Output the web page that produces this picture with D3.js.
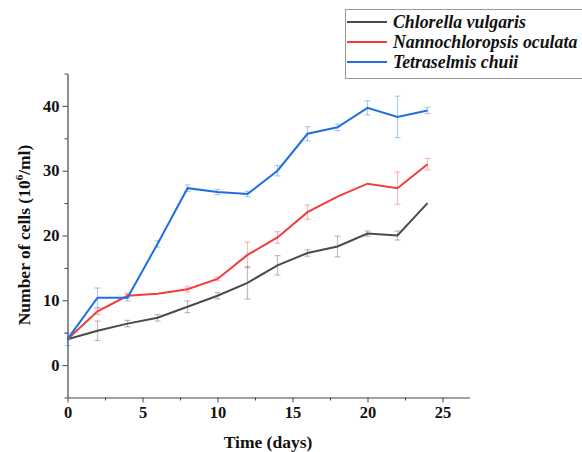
<!DOCTYPE html>
<html>
<head>
<meta charset="utf-8">
<script src="https://cdn.jsdelivr.net/npm/d3@7"></script>
<style>
  body { margin: 0; background: white; }
  svg text { font-family: "Liberation Serif", "Times New Roman", serif !important; }
</style>
</head>
<body>
<svg width="582" height="452"></svg>
<script>
// data
var days = [0, 2, 4, 6, 8, 10, 12, 14, 16, 18, 20, 22, 24];
var chlorella = [4, 5.3, 6.4, 7.3, 9, 10.7, 12.7, 15.4, 17.3, 18.3, 20.3, 20, 25];
var chlorellaErr = [0, 1.5, 0.5, 0.5, 0.9, 0.5, 2.5, 1.5, 0.5, 1.6, 0.4, 0.7, 0];
var nanno = [4, 8.3, 10.7, 11, 11.7, 13.3, 17, 19.7, 23.6, 26, 28, 27.3, 31];
var nannoErr = [0, 0.5, 0.4, 0, 0.4, 0.3, 2, 0.9, 1.1, 0, 0, 2.5, 0.9];
var tetra = [4, 10.4, 10.4, 18.7, 27.3, 26.7, 26.4, 30, 35.7, 36.7, 39.7, 38.3, 39.3];
var tetraErr = [1, 1.5, 0.5, 0.5, 0.5, 0.4, 0.4, 0.8, 1.1, 0.5, 1.1, 3.2, 0.5];
var seriesNames = ["Chlorella vulgaris", "Nannochloropsis oculata", "Tetraselmis chuii"];
var seriesColors = ["#4a4a4a", "#f23c3c", "#1f6fe3"];

var series = [
  {name: seriesNames[0], color: seriesColors[0], values: chlorella, err: chlorellaErr},
  {name: seriesNames[1], color: seriesColors[1], values: nanno, err: nannoErr},
  {name: seriesNames[2], color: seriesColors[2], values: tetra, err: tetraErr}
];

var svg = d3.select("svg");

var xScale = d3.scaleLinear().domain([0, 26.8]).range([67.5, 469.5]);
var yScale = d3.scaleLinear().domain([-5, 45]).range([397.5, 73.5]);

// minor ticks
svg.append("g")
  .attr("transform", "translate(0,397.5)")
  .call(d3.axisBottom(xScale).tickValues(d3.range(2.5, 26.8, 5)).tickSize(3).tickFormat(""))
  .call(function(g) { g.select(".domain").remove(); g.selectAll("line").attr("stroke", "#444"); });
svg.append("g")
  .attr("transform", "translate(67.5,0)")
  .call(d3.axisLeft(yScale).tickValues(d3.range(-5, 46, 10)).tickSize(3).tickFormat(""))
  .call(function(g) { g.select(".domain").remove(); g.selectAll("line").attr("stroke", "#444"); });

// x axis
var xAxis = svg.append("g")
  .attr("transform", "translate(0,397.5)")
  .call(d3.axisBottom(xScale).tickValues([0, 5, 10, 15, 20, 25]).tickSize(5).tickSizeOuter(0).tickPadding(4));
// y axis
var yAxis = svg.append("g")
  .attr("transform", "translate(67.5,0)")
  .call(d3.axisLeft(yScale).tickValues([0, 10, 20, 30, 40]).tickSize(5).tickSizeOuter(0).tickPadding(3));

[xAxis, yAxis].forEach(function(a) {
  a.attr("font-family", null).attr("font-size", null);
  a.select(".domain").attr("stroke", "#444").attr("stroke-width", 1.2);
  a.selectAll("line").attr("stroke", "#444");
  a.selectAll("text")
    .attr("fill", "#111")
    .style("font-size", "16.5px")
    .style("font-weight", "bold");
});

// error bars
series.forEach(function(s) {
  var g = svg.append("g").attr("stroke", s.color).attr("stroke-opacity", 0.35).attr("stroke-width", 1.2);
  days.forEach(function(d, i) {
    if (!s.err[i]) return;
    var x = xScale(d), y1 = yScale(s.values[i] - s.err[i]), y2 = yScale(s.values[i] + s.err[i]);
    g.append("line").attr("x1", x).attr("x2", x).attr("y1", y1).attr("y2", y2);
    g.append("line").attr("x1", x - 3).attr("x2", x + 3).attr("y1", y1).attr("y2", y1);
    g.append("line").attr("x1", x - 3).attr("x2", x + 3).attr("y1", y2).attr("y2", y2);
  });
});

// lines
var line = d3.line()
  .x(function(d, i) { return xScale(days[i]); })
  .y(function(d) { return yScale(d); });

series.forEach(function(s) {
  svg.append("path")
    .attr("d", line(s.values))
    .attr("fill", "none")
    .attr("stroke", s.color)
    .attr("stroke-width", 2);
});

// axis titles
svg.append("text")
  .attr("x", 268).attr("y", 448)
  .attr("text-anchor", "middle")
  .style("font-size", "17.5px").style("font-weight", "bold")
  .attr("fill", "#111")
  .text("Time (days)");

var yt = svg.append("text")
  .attr("transform", "translate(30,235) rotate(-90)")
  .attr("text-anchor", "middle")
  .style("font-size", "17.5px").style("font-weight", "bold")
  .attr("fill", "#111");
yt.append("tspan").text("Number of cells (10");
yt.append("tspan").attr("dy", -7).style("font-size", "11px").text("6");
yt.append("tspan").attr("dy", 7).text("/ml)");

// legend
var legend = svg.append("g");
legend.append("rect")
  .attr("x", 345.5).attr("y", 9.5).attr("width", 245).attr("height", 69)
  .attr("fill", "white").attr("stroke", "#999");
series.forEach(function(s, i) {
  var y = 22 + i * 20;
  legend.append("line")
    .attr("x1", 347).attr("x2", 387).attr("y1", y).attr("y2", y)
    .attr("stroke", s.color).attr("stroke-width", 2);
  legend.append("text")
    .attr("x", 393).attr("y", y + 6)
    .style("font-size", "17.8px").style("font-weight", "bold").style("font-style", "italic")
    .attr("fill", "#111")
    .text(s.name);
});
</script>
</body>
</html>
